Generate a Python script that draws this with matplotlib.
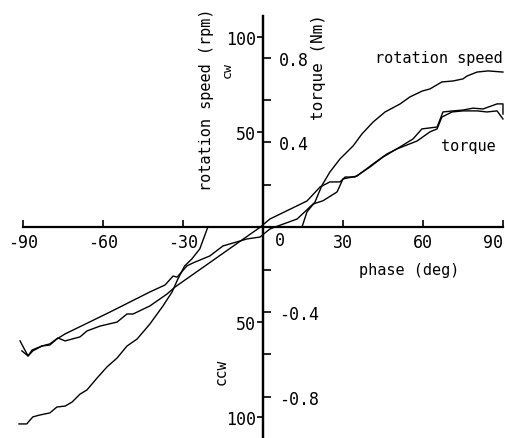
import numpy as np
import matplotlib
matplotlib.use('Agg')
import matplotlib.pyplot as plt

plt.rcParams['font.family'] = ['DejaVu Sans Mono', 'DejaVu Sans']

W, H = 506, 439

# rotation speed (rpm), phase in deg
speed_phase = [-91.4, -88.5, -86.2, -83.6, -79.8, -77.2, -74.1, -71.5, -68.5, -65.9,
               -62.1, -58.4, -54.6, -50.9, -47.1, -42.3, -37.4, -34.0, -31.8, -29.3,
               -26.6, -23.6, -20.6, 14.7, 16.6, 19.6, 22.2, 25.2, 29.0, 33.9,
               37.2, 41.4, 45.9, 51.5, 55.2, 59.8, 62.7, 67.2, 71.4, 75.1,
               76.6, 80.4, 84.5, 90.1]
speed_rpm = [-103.5, -103.5, -99.8, -98.8, -97.7, -94.6, -94.1, -92.0, -87.8, -85.6,
             -79.3, -73.5, -68.8, -62.5, -58.8, -50.9, -41.4, -34.1, -27.2, -20.4,
             -16.7, -11.4, 0.0, 0.0, 8.1, 13.3, 22.0, 29.1, 36.0, 42.8,
             49.1, 55.4, 60.7, 64.9, 68.6, 71.7, 72.8, 76.5, 77.0, 78.1,
             79.6, 81.7, 82.3, 81.7]

# torque (Nm), first sweep
torque1_phase = [-91.0, -88.0, -86.2, -82.8, -79.8, -77.2, -74.1, -57.3, -42.3, -36.6,
                 -33.6, -32.1, -28.4, -26.1, -19.8, -14.9, -5.9, -1.0, 2.7, 5.7,
                 12.9, 18.9, 22.6, 27.9, 30.1, 35.4, 41.4, 46.6, 50.4, 57.9,
                 62.7, 65.4, 67.2, 71.0, 75.1, 80.4, 84.1, 87.9, 90.1]
torque1 = [-0.536, -0.607, -0.583, -0.560, -0.555, -0.527, -0.503, -0.400, -0.305, -0.272,
           -0.230, -0.235, -0.182, -0.168, -0.135, -0.088, -0.055, -0.046, -0.008, 0.006,
           0.039, 0.110, 0.125, 0.167, 0.228, 0.242, 0.299, 0.346, 0.370, 0.407,
           0.450, 0.464, 0.520, 0.544, 0.549, 0.549, 0.544, 0.549, 0.511]

# torque (Nm), second sweep
torque2_phase = [-90.3, -88.0, -86.5, -82.8, -79.8, -76.8, -74.1, -68.5, -65.9, -61.0,
                 -54.6, -50.9, -48.6, -42.3, -35.9, -32.9, -1.0, 2.7, 16.6, 21.5,
                 25.2, 29.0, 30.9, 34.6, 40.2, 45.1, 51.5, 56.4, 59.7, 65.4,
                 67.6, 71.4, 75.1, 78.9, 82.6, 87.9, 90.1, 90.1]
torque2 = [-0.583, -0.607, -0.579, -0.560, -0.550, -0.522, -0.536, -0.517, -0.489, -0.466,
           -0.447, -0.409, -0.409, -0.371, -0.315, -0.282, 0.000, 0.039, 0.124, 0.190,
           0.214, 0.214, 0.237, 0.237, 0.284, 0.331, 0.379, 0.417, 0.464, 0.473,
           0.544, 0.549, 0.553, 0.562, 0.558, 0.582, 0.582, 0.534]

x_ticks = [-90, -60, -30, 30, 60, 90]
rpm_ticks = [-100, -50, 50, 100]
rpm_labels = ['100', '50', '50', '100']
torque_ticks = [-0.8, -0.6, -0.4, -0.2, 0.2, 0.4, 0.6, 0.8]
torque_labels = ['-0.8', '', '-0.4', '', '', '0.4', '', '0.8']

RPM_LIM = (-110.9, 111.2)
NM_PER_RPM = 1.9 / 212.0

fig = plt.figure(figsize=(W / 100, H / 100), dpi=100)
ax = fig.add_axes([22.7 / W, 0.0, 480 / W, 422 / H])
ax.set_xlim(-90, 90)
ax.set_ylim(*RPM_LIM)

for s in ['top', 'right']:
  ax.spines[s].set_visible(False)
ax.spines['left'].set_position(('data', 0))
ax.spines['bottom'].set_position(('data', 0))
for s in ['left', 'bottom']:
  ax.spines[s].set_linewidth(1.6)

ax.set_xticks(x_ticks)
ax.set_xticklabels([str(v) for v in x_ticks])
ax.tick_params(axis='x', direction='in', length=5, width=1.2, pad=4, labelsize=12)
# last label would run off the right edge
ax.get_xticklabels()[-1].set_horizontalalignment('right')
ax.get_xticklabels()[-1].set_x(91.5)
ax.set_yticks(rpm_ticks)
ax.set_yticklabels(rpm_labels)
ax.tick_params(axis='y', direction='out', length=4, width=1.2, pad=1, labelsize=12)

ax2 = ax.twinx()
ax2.set_ylim(RPM_LIM[0] * NM_PER_RPM, RPM_LIM[1] * NM_PER_RPM)
for s in ['top', 'left', 'bottom']:
  ax2.spines[s].set_visible(False)
ax2.spines['right'].set_position(('data', 0))
ax2.spines['right'].set_linewidth(1.6)
ax2.set_yticks(torque_ticks)
ax2.set_yticklabels(torque_labels)
ax2.tick_params(axis='y', direction='out', length=6, width=1.2, pad=6, labelsize=12)

ax.plot(speed_phase, speed_rpm, color='black', lw=1.0, clip_on=False)
ax2.plot(torque1_phase, torque1, color='black', lw=1.0, clip_on=False)
ax2.plot(torque2_phase, torque2, color='black', lw=1.0, clip_on=False)

ax.annotate('0', xy=(0, 0), xytext=(12.5, -9), textcoords='offset points',
            ha='center', va='center', fontsize=12)

def px(x, y):
  return x / W, 1 - y / H

fig.text(*px(207, 100), 'rotation speed (rpm)', rotation=90, ha='center', va='center', fontsize=11)
fig.text(*px(227, 70), 'cw', rotation=90, ha='center', va='center', fontsize=9.5)
fig.text(*px(221, 372), 'ccw', rotation=90, ha='center', va='center', fontsize=10.5)
fig.text(*px(319, 67), 'torque (Nm)', rotation=90, ha='center', va='center', fontsize=11.5)
fig.text(*px(439, 59), 'rotation speed', ha='center', va='center', fontsize=11)
fig.text(*px(468, 146), 'torque', ha='center', va='center', fontsize=11)
fig.text(*px(409, 271), 'phase (deg)', ha='center', va='center', fontsize=11)

fig.savefig('out.png', dpi=100)
